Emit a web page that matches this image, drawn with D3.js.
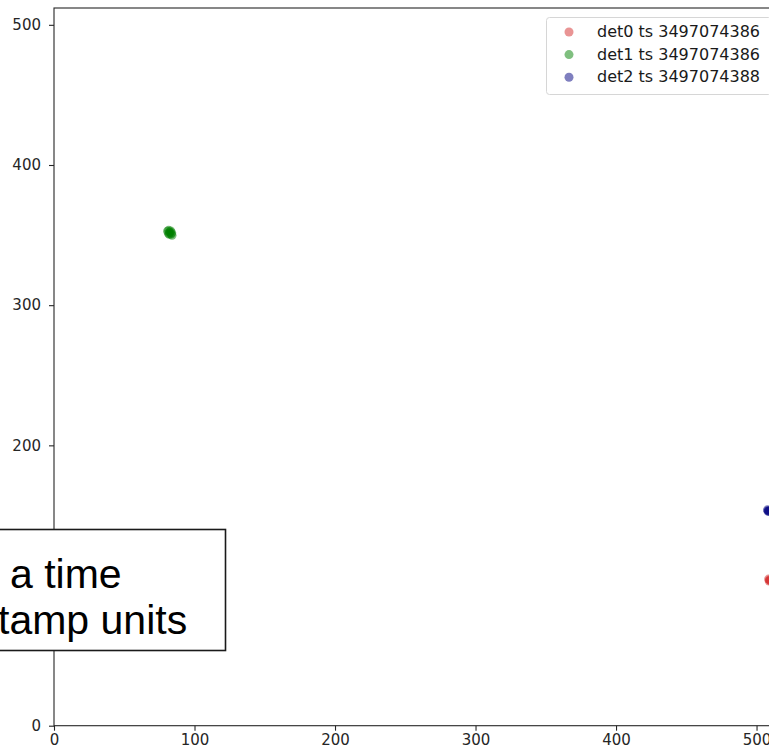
<!DOCTYPE html>
<html>
<head>
<meta charset="utf-8">
<script src="https://cdn.jsdelivr.net/npm/d3@7"></script>
<style>
  html, body { margin: 0; padding: 0; background: #fff; }
  svg { display: block; }
</style>
</head>
<body>
<svg id="chart" width="769" height="752"></svg>
<script>
// ---- data ----
const seriesNames = ["det0 ts 3497074386", "det1 ts 3497074386", "det2 ts 3497074388"];
const seriesColors = ["#d42a2a", "#008000", "#000080"];
const det0X = [508.6, 509.2, 509.8, 509.0];
const det0Y = [104.6, 104.0, 103.5, 103.2];
const det1X = [80.8, 81.6, 82.4, 83.3, 84.0, 82.0, 83.0, 81.5, 83.8];
const det1Y = [352.8, 353.4, 352.0, 350.8, 349.8, 350.6, 352.9, 351.2, 351.6];
const det2X = [507.8, 508.4, 509.0, 508.2];
const det2Y = [154.0, 153.4, 152.9, 153.0];
const xTicks = [0, 100, 200, 300, 400, 500];
const yTicks = [0, 100, 200, 300, 400, 500];
const overlayLines = ["a time", "tamp units"];

const svg = d3.select("#chart");
const x = d3.scaleLinear().domain([0, 512]).range([54, 773.4]);
const y = d3.scaleLinear().domain([0, 512]).range([725.7, 8]);

const font = "DejaVu Sans, sans-serif";
const axisColor = "#262626";

// scatter points
const series = [
  {xs: det0X, ys: det0Y},
  {xs: det1X, ys: det1Y},
  {xs: det2X, ys: det2Y}
];
series.forEach((s, i) => {
  svg.append("g").selectAll("circle")
    .data(s.xs.map((v, k) => [v, s.ys[k]]))
    .join("circle")
    .attr("cx", d => x(d[0]))
    .attr("cy", d => y(d[1]))
    .attr("r", 4.5)
    .attr("fill", seriesColors[i])
    .attr("fill-opacity", 0.5);
});

// axes
const xAxis = svg.append("g")
  .attr("transform", `translate(0,${y(0)})`)
  .call(d3.axisBottom(x).tickValues(xTicks).tickSize(5).tickPadding(4).tickFormat(d3.format("d")));
const yAxis = svg.append("g")
  .attr("transform", `translate(${x(0)},0)`)
  .call(d3.axisLeft(y).tickValues(yTicks).tickSize(5).tickPadding(8).tickFormat(d3.format("d")));
[xAxis, yAxis].forEach(g => {
  g.select(".domain").remove();
  g.selectAll(".tick line").attr("stroke", axisColor).attr("stroke-width", 1.1);
  g.selectAll(".tick text").attr("fill", axisColor).style("font-family", font).style("font-size", "15px");
});
// spines
const spines = svg.append("g").attr("stroke", axisColor).attr("stroke-width", 1.1).attr("fill", "none");
spines.append("rect")
  .attr("x", x(0)).attr("y", y(512))
  .attr("width", x(512) - x(0)).attr("height", y(0) - y(512));

// legend
const lg = svg.append("g");
lg.append("rect")
  .attr("x", 546.5).attr("y", 17.5).attr("width", 225).attr("height", 77)
  .attr("rx", 3).attr("fill", "#fff").attr("fill-opacity", 0.8)
  .attr("stroke", "#d6d6d6").attr("stroke-width", 1);
seriesNames.forEach((name, i) => {
  const cy = 31.5 + i * 22.6;
  lg.append("circle").attr("cx", 569).attr("cy", cy + 0.5).attr("r", 4.5)
    .attr("fill", seriesColors[i]).attr("fill-opacity", 0.5);
  lg.append("text").attr("x", 597).attr("y", cy + 5.5)
    .attr("fill", "#1a1a1a").style("font-family", font).style("font-size", "16px")
    .text(name);
});

// overlay annotation box
const ov = svg.append("g");
ov.append("rect")
  .attr("x", -5).attr("y", 529.5).attr("width", 230.5).attr("height", 121)
  .attr("fill", "#fff").attr("stroke", "#1a1a1a").attr("stroke-width", 1.6);
ov.selectAll("text").data(overlayLines).join("text")
  .attr("x", (d, i) => i === 0 ? 10 : -2)
  .attr("y", (d, i) => 588 + i * 46)
  .attr("fill", "#000")
  .style("font-family", "Liberation Sans, Arial, sans-serif")
  .style("font-size", "41px")
  .text(d => d);
</script>
</body>
</html>
